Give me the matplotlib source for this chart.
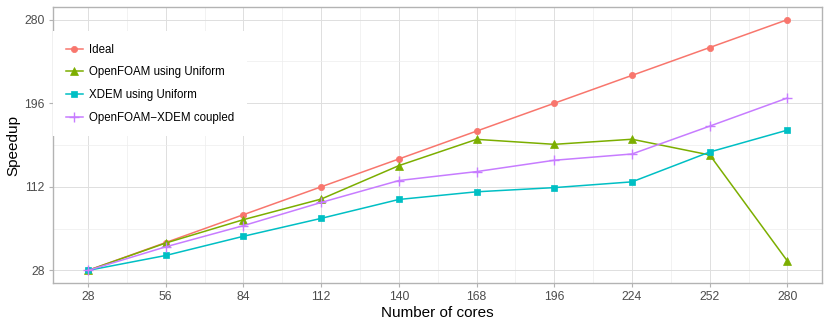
import matplotlib.pyplot as plt

plt.rcParams['font.family'] = ['Liberation Sans', 'DejaVu Sans']

cores = [28, 56, 84, 112, 140, 168, 196, 224, 252, 280]
ideal = [28, 56, 84, 112, 140, 168, 196, 224, 252, 280]
openfoam = [28, 55.5, 79, 99.7, 133.3, 159.7, 154.7, 159.8, 144, 37.3]
xdem = [28, 43, 62.3, 80.3, 99.3, 107, 111.2, 117, 147, 169]
coupled = [28, 51.7, 73, 96.3, 118.3, 127.3, 138.7, 145, 173, 201.3]
y_ticks = [28, 112, 196, 280]

series = [
    ('Ideal', ideal, '#F8766D', 'o', 4.5),
    ('OpenFOAM using Uniform', openfoam, '#7CAE00', '^', 5.5),
    ('XDEM using Uniform', xdem, '#00BFC4', 's', 4.5),
    ('OpenFOAM\u2212XDEM coupled', coupled, '#C77CFF', '+', 7),
]

fig = plt.figure(figsize=(8.3, 3.23), dpi=100)
ax = fig.add_axes([0.0639, 0.124, 0.927, 0.854])

for label, vals, color, marker, ms in series:
    ax.plot(cores, vals, color=color, marker=marker, markersize=ms,
            linewidth=1.1, markeredgewidth=1.0 if marker == '+' else 0.5,
            label=label, zorder=3)

ax.set_xlim(15.4, 292.6)
ax.set_ylim(15.4, 292.6)
ax.set_xticks(cores)
ax.set_yticks(y_ticks)
# minor grid halfway between major ticks, like ggplot
ax.set_xticks([(a + b) / 2 for a, b in zip(cores[:-1], cores[1:])], minor=True)
ax.set_yticks([(a + b) / 2 for a, b in zip(y_ticks[:-1], y_ticks[1:])], minor=True)

ax.grid(True, which='major', color='#DEDEDE', linewidth=0.7, zorder=0)
ax.grid(True, which='minor', color='#EDEDED', linewidth=0.5, zorder=0)
ax.set_axisbelow(True)
for s in ax.spines.values():
    s.set_color('#B3B3B3')
    s.set_linewidth(1.0)
ax.tick_params(which='major', length=3, color='#B3B3B3', labelsize=8.8,
               labelcolor='#4D4D4D', pad=3)
ax.tick_params(which='minor', length=0)

ax.set_xlabel('Number of cores', fontsize=11, labelpad=2)
ax.set_ylabel('Speedup', fontsize=11, labelpad=3)

leg = ax.legend(loc='upper left', bbox_to_anchor=(0.0, 0.913), fontsize=8.3,
                frameon=True, facecolor='white', edgecolor='none',
                framealpha=1, fancybox=False, handlelength=1.5,
                handletextpad=0.55, labelspacing=0.92, borderpad=1.1,
                borderaxespad=0)
leg.set_zorder(5)

fig.savefig('out.png', dpi=100)
